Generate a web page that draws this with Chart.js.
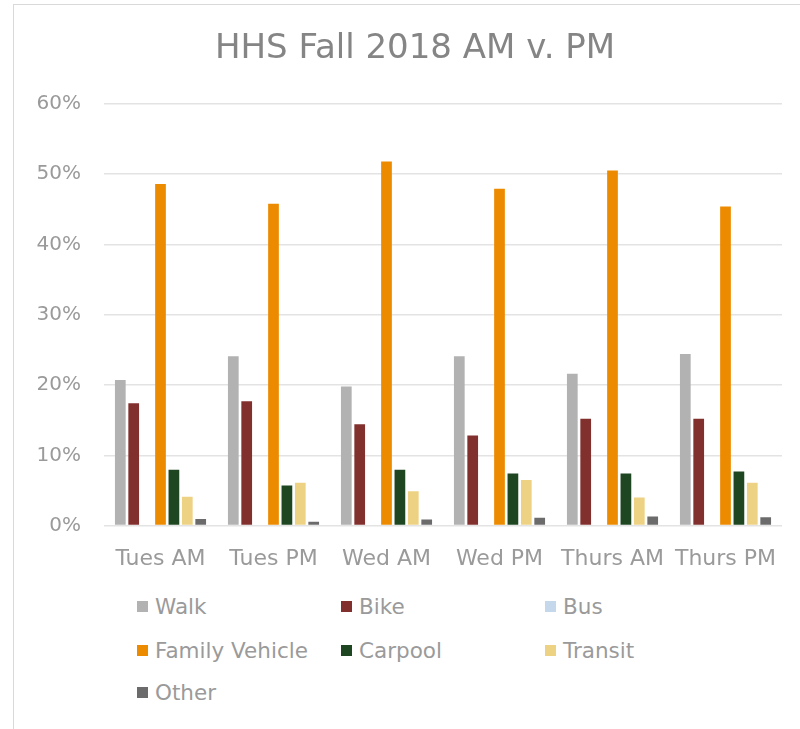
<!DOCTYPE html>
<html>
<head>
<meta charset="utf-8">
<script src="https://cdn.jsdelivr.net/npm/chart.js@4/dist/chart.umd.min.js"></script>
<style>
  body { margin: 0; background: #fff; font-family: "DejaVu Sans", sans-serif; }
  #box { position: absolute; left: 13px; top: 4px; width: 800px; height: 740px;
         border: 1px solid #d9d9d9; box-sizing: border-box; }
  #wrap { position: absolute; left: 0; top: 0; width: 786px; height: 580px; }
  #legend { position: absolute; left: 0; top: 0; width: 786px; height: 200px; }
  .item { position: absolute; display: flex; align-items: center; color: #9a9a9a; font-size: 21.5px; white-space: nowrap; }
  .sq { width: 11px; height: 11px; margin-right: 7px; }
</style>
</head>
<body>
<div id="box">
  <div id="wrap"><canvas id="chart"></canvas></div>
  <div id="legend"></div>
</div>
<script>
const categories = ['Tues AM', 'Tues PM', 'Wed AM', 'Wed PM', 'Thurs AM', 'Thurs PM'];
const seriesNames = ['Walk', 'Bike', 'Bus', 'Family Vehicle', 'Carpool', 'Transit', 'Other'];
const seriesColors = ['#b2b2b2', '#82302e', '#c5d7ea', '#ed8b00', '#1e4620', '#eed284', '#6b6b6b'];

const walk = [20.7, 24.1, 19.8, 24.1, 21.6, 24.4];
const bike = [17.4, 17.7, 14.4, 12.8, 15.2, 15.2];
const bus = [0, 0, 0, 0, 0, 0];
const familyVehicle = [48.6, 45.8, 51.8, 47.9, 50.5, 45.4];
const carpool = [7.95, 5.7, 7.95, 7.4, 7.4, 7.7];
const transit = [4.1, 6.1, 4.9, 6.5, 4.0, 6.1];
const other = [0.95, 0.55, 0.85, 1.1, 1.3, 1.2];

const yTicks = [0, 10, 20, 30, 40, 50, 60];

const seriesValues = [walk, bike, bus, familyVehicle, carpool, transit, other];

const datasets = seriesNames.map((name, i) => ({
    label: name,
    data: seriesValues[i],
    backgroundColor: seriesColors[i],
    barPercentage: 0.8,
    categoryPercentage: 0.83
}));

// the original title sits a bit right of the canvas centre
const shiftTitle = {
    id: 'shiftTitle',
    afterLayout(chart) {
        const t = chart.titleBlock;
        if (t) { t.left += 17; t.right += 17; }
    }
};

new Chart(document.getElementById('chart').getContext('2d'), {
    type: 'bar',
    data: { labels: categories, datasets: datasets },
    plugins: [shiftTitle],
    options: {
        responsive: true,
        maintainAspectRatio: false,
        animation: false,
        layout: { padding: { left: 0, right: 18, top: 0, bottom: 1 } },
        plugins: {
            legend: { display: false },
            tooltip: { enabled: false },
            title: {
                display: true,
                text: 'HHS Fall 2018 AM v. PM',
                color: '#858585',
                font: { family: 'DejaVu Sans', size: 34, weight: 'normal' },
                padding: { top: 24, bottom: 34 }
            }
        },
        scales: {
            x: {
                grid: { display: false },
                border: { display: false },
                ticks: { color: '#9a9a9a', font: { family: 'DejaVu Sans', size: 22 }, padding: 12 }
            },
            y: {
                min: 0,
                max: 60,
                afterBuildTicks: axis => { axis.ticks = yTicks.map(v => ({ value: v })); },
                afterFit: axis => { axis.width = 90; },
                grid: { color: '#e3e3e3', lineWidth: 1.5, drawTicks: false },
                border: { display: false },
                ticks: {
                    color: '#9a9a9a',
                    font: { family: 'DejaVu Sans', size: 20 },
                    padding: 23,
                    callback: v => v + '%'
                }
            }
        }
    }
});

// legend in three columns like the original
const legend = document.getElementById('legend');
const colX = [123, 327, 531];
const rowY = [602, 646, 688];
seriesNames.forEach((name, i) => {
    const item = document.createElement('div');
    item.className = 'item';
    item.style.left = colX[i % 3] + 'px';
    item.style.top = (rowY[Math.floor(i / 3)] - 13) + 'px';
    item.innerHTML = '<div class="sq" style="background:' + seriesColors[i] + '"></div>' + name;
    legend.appendChild(item);
});
</script>
</body>
</html>
